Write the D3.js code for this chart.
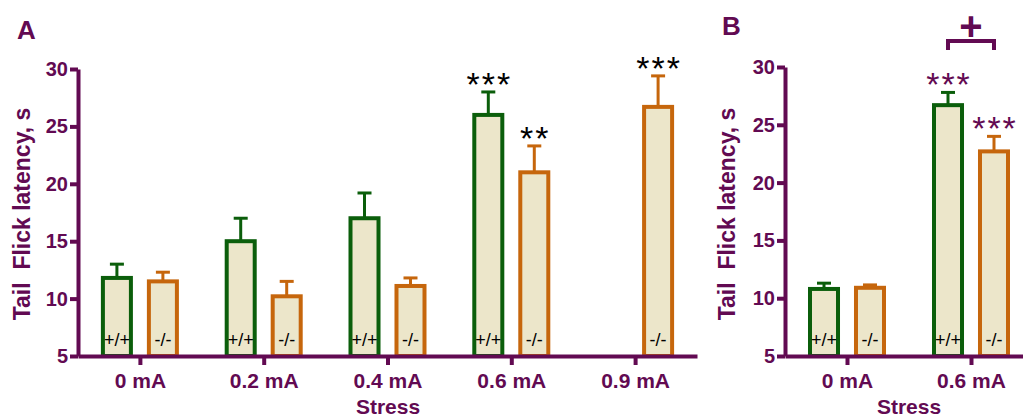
<!DOCTYPE html>
<html>
<head>
<meta charset="utf-8">
<script src="https://cdn.jsdelivr.net/npm/d3@7"></script>
<style>
  body { margin: 0; background: #fff; }
  svg { display: block; font-family: "Liberation Sans", Arial, sans-serif; }
</style>
</head>
<body>
<svg width="1023" height="419"></svg>
<script>
// panel A data
const dosesA = ["0 mA", "0.2 mA", "0.4 mA", "0.6 mA", "0.9 mA"];
const wtA = [11.8, 15.0, 17.0, 26.0, null];
const wtErrA = [1.2, 2.0, 2.2, 2.0, null];
const koA = [11.5, 10.2, 11.1, 21.0, 26.7];
const koErrA = [0.8, 1.3, 0.7, 2.3, 2.7];
const wtStarsA = ["", "", "", "***", ""];
const koStarsA = ["", "", "", "**", "***"];

// panel B data
const dosesB = ["0 mA", "0.6 mA"];
const wtB = [10.8, 26.7];
const wtErrB = [0.5, 1.1];
const koB = [10.9, 22.7];
const koErrB = [0.25, 1.3];
const wtStarsB = ["", "***"];
const koStarsB = ["", "***"];

const yTicks = [5, 10, 15, 20, 25, 30];
const genotypes = ["+/+", "-/-"];

const purple = "#620a52";
const green = "#0b5e0b";
const orange = "#c6660c";
const fill = "#ece6ca";

const svg = d3.select("svg");

function panel(opts) {
    const g = svg.append("g");
    const y = d3.scaleLinear().domain([5, 30]).range([356, opts.yTop]);
    const x = d3.scalePoint().domain(opts.doses).range([opts.x0, opts.x1]).padding(0.5);
    const sub = d3.scaleBand().domain(genotypes).range([-37, 37]).paddingInner(0.391);

    const rows = [];
    opts.doses.forEach((d, i) => {
        rows.push({dose: d, geno: "+/+", v: opts.wt[i], e: opts.wtErr[i], s: opts.wtStars[i], c: green});
        rows.push({dose: d, geno: "-/-", v: opts.ko[i], e: opts.koErr[i], s: opts.koStars[i], c: orange});
    });
    const data = rows.filter(r => r.v != null);

    const bars = g.append("g").selectAll("g").data(data).enter().append("g")
        .attr("transform", d => `translate(${x(d.dose) + sub(d.geno)},0)`);

    // error bars (upper only)
    bars.append("line")
        .attr("x1", sub.bandwidth() / 2).attr("x2", sub.bandwidth() / 2)
        .attr("y1", d => y(d.v)).attr("y2", d => y(d.v + d.e))
        .attr("stroke", d => d.c).attr("stroke-width", 3);
    bars.append("line")
        .attr("x1", sub.bandwidth() / 2 - 7).attr("x2", sub.bandwidth() / 2 + 7)
        .attr("y1", d => y(d.v + d.e)).attr("y2", d => y(d.v + d.e))
        .attr("stroke", d => d.c).attr("stroke-width", 3);

    bars.append("rect")
        .attr("x", 0).attr("width", sub.bandwidth())
        .attr("y", d => y(d.v)).attr("height", d => y(5) - y(d.v))
        .attr("fill", fill).attr("stroke", d => d.c).attr("stroke-width", 4);

    bars.append("text")
        .attr("x", sub.bandwidth() / 2).attr("y", 346)
        .attr("text-anchor", "middle").attr("font-size", 18).attr("fill", "#000")
        .text(d => d.geno);

    bars.filter(d => d.s).append("text")
        .attr("x", sub.bandwidth() / 2 + 1).attr("y", d => y(d.v + d.e) + 4)
        .attr("text-anchor", "middle").attr("font-size", 34).attr("letter-spacing", 2)
        .attr("fill", opts.starColor)
        .text(d => d.s);

    // axes
    const ya = g.append("g").attr("transform", `translate(${opts.x0},0)`)
        .call(d3.axisLeft(y).tickValues(yTicks).tickSize(8).tickSizeOuter(0).tickPadding(2));
    const xa = g.append("g").attr("transform", `translate(0,356)`)
        .call(d3.axisBottom(x).tickSize(9).tickSizeOuter(0).tickPadding(8));
    [ya, xa].forEach(a => {
        a.select(".domain").attr("stroke", purple).attr("stroke-width", 4);
        a.selectAll(".tick line").attr("stroke", purple).attr("stroke-width", 4);
        a.selectAll(".tick text").attr("fill", purple).attr("font-weight", "bold")
            .attr("font-size", 20).attr("font-family", "Liberation Sans, Arial, sans-serif");
    });
    xa.selectAll(".tick text").attr("dy", "0.71em").attr("font-size", 21);

    g.append("text")
        .attr("x", opts.stressX).attr("y", 414)
        .attr("text-anchor", "middle").attr("font-size", 21).attr("font-weight", "bold")
        .attr("fill", purple).text("Stress");

    g.append("text")
        .attr("transform", `translate(${opts.titleX},214) rotate(-90)`)
        .attr("text-anchor", "middle").attr("font-size", 23).attr("font-weight", "bold")
        .attr("fill", purple).attr("xml:space", "preserve")
        .text("Tail  Flick latency, s");

    g.append("text")
        .attr("x", opts.letterX).attr("y", opts.letterY)
        .attr("font-size", 26).attr("font-weight", "bold")
        .attr("fill", purple).text(opts.letter);

    return {g, x, y, sub};
}

panel({
    doses: dosesA, wt: wtA, wtErr: wtErrA, ko: koA, koErr: koErrA,
    wtStars: wtStarsA, koStars: koStarsA, starColor: "#000",
    x0: 78, x1: 697, yTop: 69, stressX: 388, titleX: 30,
    letter: "A", letterX: 17, letterY: 39
});

const pB = panel({
    doses: dosesB, wt: wtB, wtErr: wtErrB, ko: koB, koErr: koErrB,
    wtStars: wtStarsB, koStars: koStarsB, starColor: purple,
    x0: 785, x1: 1033, yTop: 67, stressX: 909, titleX: 735,
    letter: "B", letterX: 722, letterY: 35
});

// bracket between genotypes at 0.6 mA
const bx1 = pB.x("0.6 mA") + pB.sub("+/+") + pB.sub.bandwidth() / 2;
const bx2 = pB.x("0.6 mA") + pB.sub("-/-") + pB.sub.bandwidth() / 2;
pB.g.append("path")
    .attr("d", `M${bx1},50V41H${bx2}V50`)
    .attr("fill", "none").attr("stroke", purple).attr("stroke-width", 4);
pB.g.append("text")
    .attr("x", (bx1 + bx2) / 2).attr("y", 40)
    .attr("text-anchor", "middle").attr("font-size", 40).attr("font-weight", "bold")
    .attr("fill", purple).text("+");
</script>
</body>
</html>
